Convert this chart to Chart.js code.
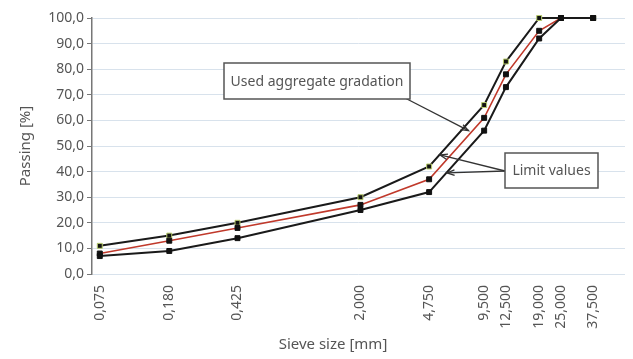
<!DOCTYPE html>
<html>
<head>
<meta charset="utf-8">
<script src="https://cdn.jsdelivr.net/npm/chart.js@4.4.1/dist/chart.umd.min.js"></script>
<style>
html,body{margin:0;padding:0;background:#fff;}
#wrap{width:633px;height:359px;position:relative;}
</style>
</head>
<body>
<div id="wrap"><canvas id="c" width="633" height="359"></canvas></div>
<script>
const sieveSizes = [0.075, 0.180, 0.425, 2.000, 4.750, 9.500, 12.500, 19.000, 25.000, 37.500];
const upperLimit = [11, 15, 20, 30, 42, 66, 83, 100, 100, 100];
const usedGradation = [8, 13, 18, 27, 37, 61, 78, 95, 100, 100];
const lowerLimit = [7, 9, 14, 25, 32, 56, 73, 92, 100, 100];
const yTicks = [0, 10, 20, 30, 40, 50, 60, 70, 80, 90, 100];

const FONT = "'Noto Sans', 'Open Sans', sans-serif";
const TXT = '#555';

function pts(arr){ return sieveSizes.map((x,i)=>({x:x, y:arr[i]})); }

const annot = {
  id:'annot',
  afterDraw(chart){
    const ctx = chart.ctx, xs = chart.scales.x, ys = chart.scales.y;
    ctx.save();
    function arrow(x1,y1,x2,y2){
      ctx.strokeStyle='#333'; ctx.lineWidth=1.3;
      ctx.beginPath(); ctx.moveTo(x1,y1); ctx.lineTo(x2,y2); ctx.stroke();
      const a=Math.atan2(y2-y1,x2-x1), L=8, w=0.35;
      ctx.beginPath();
      ctx.moveTo(x2-L*Math.cos(a-w), y2-L*Math.sin(a-w));
      ctx.lineTo(x2,y2);
      ctx.lineTo(x2-L*Math.cos(a+w), y2-L*Math.sin(a+w));
      ctx.stroke();
    }
    const b1 = {x:224, y:63, w:186, h:36};
    arrow(405, 98, xs.getPixelForValue(7.8), ys.getPixelForValue(56));
    ctx.fillStyle='#fff'; ctx.strokeStyle='#555'; ctx.lineWidth=1.5;
    ctx.fillRect(b1.x,b1.y,b1.w,b1.h); ctx.strokeRect(b1.x,b1.y,b1.w,b1.h);
    ctx.fillStyle=TXT; ctx.font='14px '+FONT; ctx.textAlign='center'; ctx.textBaseline='middle';
    ctx.fillText('Used aggregate gradation', b1.x+b1.w/2, b1.y+b1.h/2+1);
    const b2 = {x:505, y:153, w:93, h:35};
    arrow(b2.x, 171, xs.getPixelForValue(5.45), ys.getPixelForValue(46.5));
    arrow(b2.x, 171, xs.getPixelForValue(5.95), ys.getPixelForValue(39.5));
    ctx.fillStyle='#fff'; ctx.strokeStyle='#555'; ctx.lineWidth=1.5;
    ctx.fillRect(b2.x,b2.y,b2.w,b2.h); ctx.strokeRect(b2.x,b2.y,b2.w,b2.h);
    ctx.fillStyle=TXT; ctx.font='14px '+FONT;
    ctx.fillText('Limit values', b2.x+b2.w/2, b2.y+b2.h/2+1);
    ctx.font='15px '+FONT; ctx.fillStyle=TXT;
    ctx.fillText('Sieve size [mm]', 333, 345);
    ctx.restore();
  }
};

const common = {pointStyle:'rect', pointRadius:3.5, pointBorderWidth:1, clip:false};

new Chart(document.getElementById('c'), {
  type:'line',
  data:{
    datasets:[
      Object.assign({label:'Upper limit', data:pts(upperLimit), borderColor:'#1a1a1a', borderWidth:2,
       pointBackgroundColor:'#111', pointBorderColor:'#b8cc6e', order:3}, common),
      Object.assign({label:'Used aggregate gradation', data:pts(usedGradation), borderColor:'#c0392b', borderWidth:1.6,
       pointBackgroundColor:'#111', pointBorderColor:'#111', order:2}, common),
      Object.assign({label:'Lower limit', data:pts(lowerLimit), borderColor:'#1a1a1a', borderWidth:2,
       pointBackgroundColor:'#111', pointBorderColor:'#111', order:1}, common)
    ]
  },
  options:{
    responsive:false, animation:false,
    layout:{padding:{left:17, right:8, top:18, bottom:0}},
    plugins:{legend:{display:false}, tooltip:{enabled:false}},
    elements:{line:{tension:0}},
    scales:{
      x:{
        type:'logarithmic', min:0.068, max:56,
        afterBuildTicks(s){ s.ticks = sieveSizes.map(v=>({value:v})); },
        afterFit(s){ s.height = 85; },
        grid:{display:false},
        border:{display:false},
        ticks:{
          autoSkip:false, minRotation:90, maxRotation:90, padding:3,
          color:TXT, font:{family:FONT, size:14},
          callback:(v)=>Number(v).toFixed(3).replace('.',',')
        }
      },
      y:{
        min:0, max:100,
        afterBuildTicks(s){ s.ticks = yTicks.map(v=>({value:v})); },
        afterFit(s){ s.width = 75; },
        grid:{color:'#d8e2ec', lineWidth:1, tickColor:'#777', tickLength:5},
        border:{color:'#777', width:1.5},
        ticks:{color:TXT, font:{family:FONT, size:14}, padding:3,
          callback:(v)=>Number(v).toFixed(1).replace('.',',')},
        title:{display:true, text:'Passing [%]', color:TXT, font:{family:FONT, size:15}, padding:{top:0,bottom:4}}
      }
    }
  },
  plugins:[annot]
});
</script>
</body>
</html>
